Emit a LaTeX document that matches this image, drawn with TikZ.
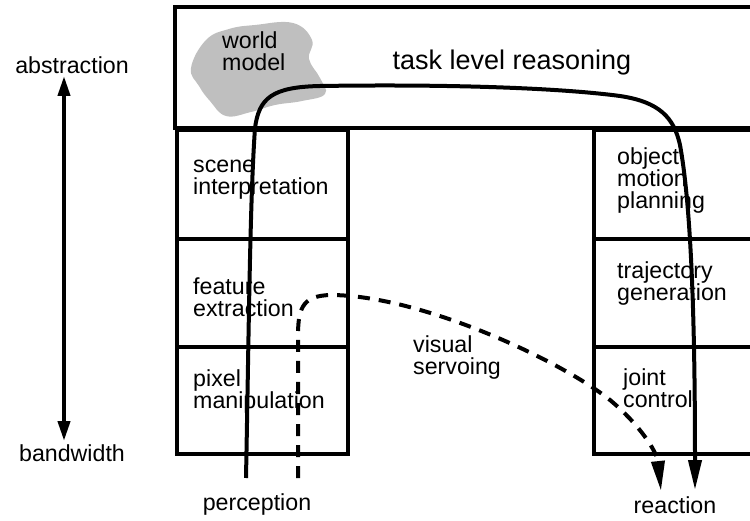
\documentclass[tikz,border=0pt]{standalone}
\usepackage{fontspec}
\setmainfont{Liberation Sans}
\usetikzlibrary{arrows.meta}
\begin{document}
\begin{tikzpicture}[x=1pt,y=-1pt,
  frame/.style={line width=4pt, line join=miter, line cap=rect},
  lbl/.style={font=\fontsize{23.2}{22}\selectfont, align=left, inner sep=0pt, anchor=base west},
  clbl/.style={font=\fontsize{23.2}{22}\selectfont, inner sep=0pt},
  flow/.style={line width=4pt, -{Triangle[length=30pt,width=13pt]}}
]
\useasboundingbox (0,0) rectangle (750,521);
% world model blob
\fill[gray!50] plot[smooth cycle, tension=0.7] coordinates {(191,68) (206,40) (229,29) (255,25) (293,23) (312,40) (309,59) (320,78) (325,94) (302,101) (275,105) (251,112) (226,116) (210,101) (199,86)};
% top box
\draw[frame] (760,7) -- (175,7) -- (175,128) -- (760,128);
% left column
\node[frame, draw, minimum width=171pt, minimum height=109pt, anchor=north west, inner sep=0pt] (scene) at (175,128) {};
\node[frame, draw, minimum width=171pt, minimum height=108pt, anchor=north west, inner sep=0pt] (feat) at (175,237) {};
\node[frame, draw, minimum width=171pt, minimum height=107pt, anchor=north west, inner sep=0pt] (pix) at (175,345) {};
% right column
\node[frame, draw, minimum width=180pt, minimum height=109pt, anchor=north west, inner sep=0pt] (obj) at (592,128) {};
\node[frame, draw, minimum width=180pt, minimum height=108pt, anchor=north west, inner sep=0pt] (traj) at (592,237) {};
\node[frame, draw, minimum width=180pt, minimum height=107pt, anchor=north west, inner sep=0pt] (joint) at (592,345) {};
% labels (anchor = baseline of last line)
\node[lbl] (wm) at (222,71) {world\\model};
\node[clbl, font=\fontsize{27}{28}\selectfont, anchor=base] (tlr) at (512,70) {task level reasoning};
\node[lbl] (t1) at (193,195) {scene\\interpretation};
\node[lbl] (t2) at (193,317) {feature\\extraction};
\node[lbl] (t3) at (193,409) {pixel\\manipulation};
\node[lbl] (t4) at (617,209) {object\\motion\\planning};
\node[lbl] (t5) at (617,301) {trajectory\\generation};
\node[lbl] (t6) at (623,407) {joint\\control};
\node[lbl] (vs) at (413,375) {visual\\servoing};
\node[clbl] (perc) at (257,505) {perception};
\node[clbl] (react) at (675,505) {reaction};
\node[clbl] (abs) at (72,65) {abstraction};
\node[clbl] (bw) at (72,453) {bandwidth};
% abstraction-bandwidth arrow
\coordinate (atop) at (64,76);
\coordinate (abot) at (64,441);
\draw[line width=4pt, {Triangle[length=20pt,width=12pt]}-{Triangle[length=20pt,width=12pt]}] (atop) -- (abot);
% main solid flow
\coordinate (ps) at (246,478);
\coordinate (re) at (695,490);
\draw[flow] (ps) .. controls (249,320) and (250,200) .. (255,128)
  .. controls (259,98) and (272,87) .. (320,86)
  .. controls (450,84) and (560,88) .. (620,96)
  .. controls (660,102) and (674,118) .. (680,145)
  .. controls (690,200) and (695,300) .. (re);
% visual servoing dashed
\coordinate (vs0) at (298,478);
\coordinate (vs1) at (661,491);
\draw[flow, dash pattern=on 12pt off 9pt] (vs0) -- (298,335) .. controls (298,305) and (305,296) .. (330,295)
  .. controls (420,295) and (560,360) .. (610,400)
  .. controls (640,425) and (657,452) .. (vs1);
\end{tikzpicture}
\end{document}
